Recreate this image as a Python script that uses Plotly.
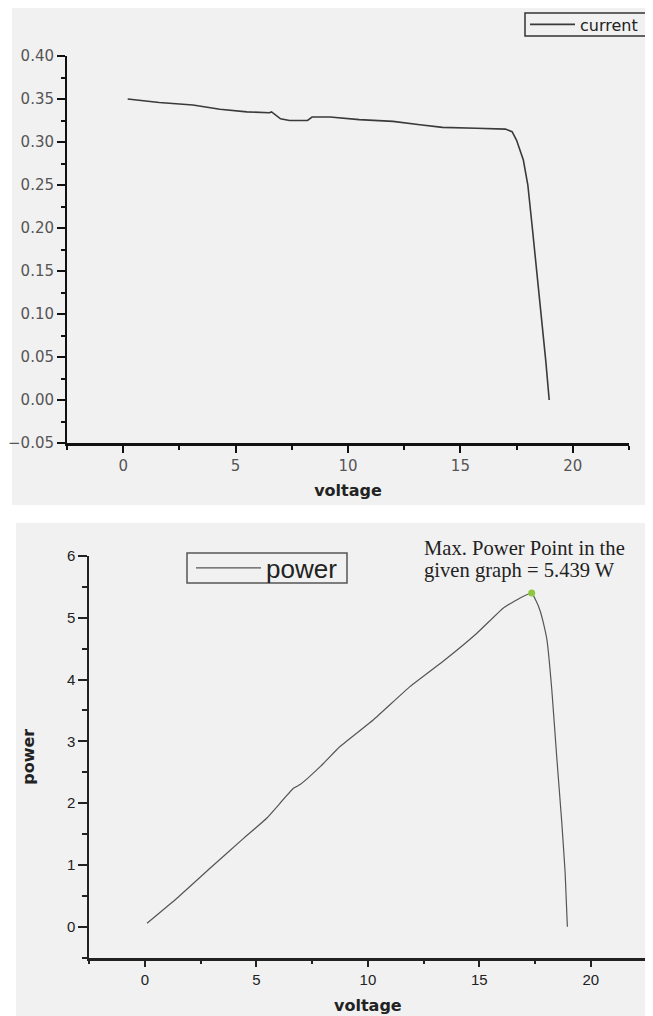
import plotly.graph_objects as go

# ---- data ----
volt_cur = [0.2, 1.6, 3.1, 4.3, 5.5, 6.5, 6.6, 7.0, 7.4, 8.2, 8.4, 9.2, 10.5, 12.0,
            13.2, 14.2, 15.7, 17.0, 17.3, 17.5, 17.8, 18.0, 18.2, 18.4, 18.6, 18.8, 18.95]
current = [0.350, 0.346, 0.343, 0.338, 0.335, 0.334, 0.335, 0.327, 0.325, 0.325, 0.329,
           0.329, 0.326, 0.324, 0.320, 0.317, 0.316, 0.315, 0.312, 0.302, 0.279, 0.250,
           0.200, 0.150, 0.095, 0.045, 0.000]

volt_pow = [0.09, 1.43, 2.93, 4.42, 5.47, 6.66, 6.96, 7.86, 8.76, 10.25, 11.9, 13.39,
            14.89, 16.08, 16.83, 17.35, 17.55, 17.73, 17.87, 18.03, 18.25, 18.47, 18.7,
            18.85, 18.95]
power = [0.055, 0.46, 0.95, 1.43, 1.76, 2.24, 2.30, 2.59, 2.92, 3.35, 3.89, 4.30, 4.75,
         5.16, 5.32, 5.40, 5.27, 5.11, 4.92, 4.65, 3.84, 2.76, 1.68, 0.87, 0.0]

mpp_volt = [17.35]
mpp_power = [5.40]

x_ticks = [0, 5, 10, 15, 20]
cur_ticks = [-0.05, 0.00, 0.05, 0.10, 0.15, 0.20, 0.25, 0.30, 0.35, 0.40]
pow_ticks = [0, 1, 2, 3, 4, 5, 6]

# the page places the figure 8px from the top-left corner
OFF = 8
W, H = 645, 1008
def px(v):
    return (v - OFF) / W
def py(v):
    return 1 - (v - OFF) / H

fig = go.Figure()
fig.add_trace(go.Scatter(x=volt_cur, y=current, mode="lines", name="current",
                         line=dict(color="#3a3a3a", width=1.6),
                         xaxis="x", yaxis="y", legend="legend"))
fig.add_trace(go.Scatter(x=volt_pow, y=power, mode="lines", name="power",
                         line=dict(color="#555555", width=1.2, shape="spline",
                                   smoothing=0.4),
                         xaxis="x2", yaxis="y2", legend="legend2"))
fig.add_trace(go.Scatter(x=mpp_volt, y=mpp_power, mode="markers", showlegend=False,
                         marker=dict(color="#8dc63f", size=7),
                         xaxis="x2", yaxis="y2"))

top_tick_font = dict(family="DejaVu Sans", size=15, color="#555555")
bot_tick_font = dict(family="Liberation Sans, Arial", size=15, color="#222222")
title_font = dict(family="DejaVu Sans", size=16, color="#222222", weight="bold")

common_x = dict(range=[-2.5, 22.5], showgrid=False, zeroline=False, showline=True,
                linewidth=2.5, ticks="outside", ticklen=7, tickwidth=2,
                tickmode="array", tickvals=x_ticks,
                minor=dict(dtick=2.5, tick0=0, ticks="outside", ticklen=4, tickwidth=1.5))

fig.update_layout(
    width=W, height=H,
    margin=dict(l=0, r=0, t=0, b=0, autoexpand=False),
    paper_bgcolor="white",
    plot_bgcolor="rgba(0,0,0,0)",
    xaxis=dict(domain=[px(67), px(629)], anchor="y", linecolor="#111111",
               tickcolor="#111111", tickfont=top_tick_font,
               title=dict(text="voltage", font=title_font, standoff=12),
               **common_x),
    yaxis=dict(domain=[py(443), py(56)], anchor="x", range=[-0.05, 0.40],
               showgrid=False, zeroline=False, showline=True, linewidth=2,
               linecolor="#111111", ticks="outside", ticklen=8, tickwidth=2,
               tickcolor="#111111", tickmode="array", tickvals=cur_ticks,
               tickformat=".2f", tickfont=top_tick_font,
               minor=dict(dtick=0.025, tick0=0, ticks="outside", ticklen=4,
                          tickwidth=1.5, tickcolor="#111111")),
    xaxis2=dict(domain=[px(89.3), px(646.5)], anchor="y2", linecolor="#222222",
                tickcolor="#222222", tickfont=bot_tick_font,
                title=dict(text="voltage", font=title_font, standoff=13),
                **common_x),
    yaxis2=dict(domain=[py(957.6), py(556)], anchor="x2", range=[-0.5, 6],
                showgrid=False, zeroline=False, showline=True, linewidth=2,
                linecolor="#222222", ticks="outside", ticklen=9, tickwidth=2,
                tickcolor="#222222", tickmode="array", tickvals=pow_ticks,
                tickfont=bot_tick_font,
                title=dict(text="power", font=title_font, standoff=28),
                minor=dict(dtick=0.5, tick0=0, ticks="outside", ticklen=5,
                           tickwidth=1.5, tickcolor="#222222")),
    legend=dict(x=px(525), y=py(24.5), xanchor="left", yanchor="middle",
                bgcolor="rgba(0,0,0,0)", borderwidth=0,
                font=dict(family="DejaVu Sans", size=16, color="#222222"),
                itemwidth=45),
    legend2=dict(x=px(191), y=py(568), xanchor="left", yanchor="middle",
                 bgcolor="rgba(0,0,0,0)", borderwidth=0,
                 font=dict(family="Liberation Sans, Arial", size=26, color="#222222"),
                 itemwidth=65),
    shapes=[
        dict(type="rect", xref="paper", yref="paper", x0=px(12), x1=1.0,
             y0=py(505), y1=1.0, fillcolor="#f1f1f1", line=dict(width=0),
             layer="below"),
        dict(type="rect", xref="paper", yref="paper", x0=px(16), x1=1.0,
             y0=0, y1=py(523), fillcolor="#f1f1f1", line=dict(width=0),
             layer="below"),
        # legend frames
        dict(type="rect", xref="paper", yref="paper", x0=px(525), x1=px(662),
             y0=py(36), y1=py(13), line=dict(color="#333333", width=1.5)),
        dict(type="rect", xref="paper", yref="paper", x0=px(187), x1=px(347),
             y0=py(583), y1=py(553), line=dict(color="#555555", width=1.5)),
    ],
    annotations=[
        dict(text="Max. Power Point in the", xref="paper", yref="paper",
             x=px(421.7), y=py(548), xanchor="left", yanchor="middle",
             showarrow=False,
             font=dict(family="Liberation Serif, Times New Roman", size=20.6,
                       color="#222222")),
        dict(text="given graph = 5.439 W", xref="paper", yref="paper",
             x=px(421.7), y=py(570), xanchor="left", yanchor="middle",
             showarrow=False,
             font=dict(family="Liberation Serif, Times New Roman", size=20.6,
                       color="#222222")),
    ],
)

fig.write_html("out.html")
